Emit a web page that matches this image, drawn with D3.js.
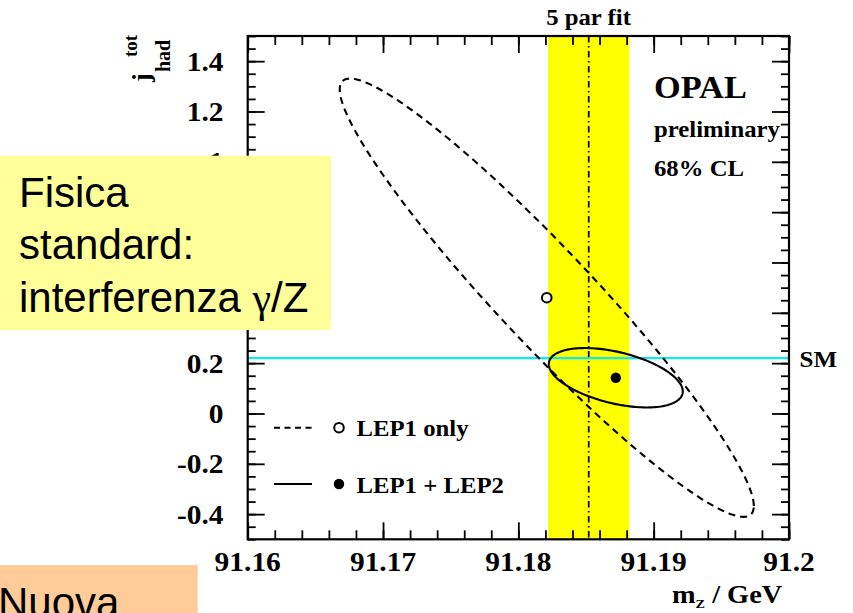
<!DOCTYPE html>
<html>
<head>
<meta charset="utf-8">
<script src="https://cdn.jsdelivr.net/npm/d3@7"></script>
<style>
  html, body { margin: 0; padding: 0; background: #fff; }
  svg { display: block; }
</style>
</head>
<body>
<script>
// Fit results: 68% CL contours in the (m_Z, j_had^tot) plane
const seriesNames = ["LEP1 only", "LEP1 + LEP2"];
const centreMz = [91.1821, 91.1872];
const centreJ = [0.46, 0.142];
const spreadMz = [0.0153, 0.00495];
const spreadJ = [0.871, 0.118];
const correlation = [-0.95, -0.46];
const seriesDash = ["7,5", null];
const seriesFilled = [false, true];

// 5-parameter fit band in m_Z and Standard Model j value
const fitMz = [91.1852];
const fitHalfWidth = [0.0030];
const smJ = [0.22];

// Axes
const xDomain = [91.16, 91.2];
const yDomain = [-0.5, 1.5];
const xTicks = [91.16, 91.17, 91.18, 91.19, 91.2];
const xTickLabels = ["91.16", "91.17", "91.18", "91.19", "91.2"];
const yTicks = [-0.4, -0.2, 0, 0.2, 0.4, 0.6, 0.8, 1, 1.2, 1.4];
const yTickLabels = ["-0.4", "-0.2", "0", "0.2", "0.4", "0.6", "0.8", "1", "1.2", "1.4"];

// Slide notes
const noteLines = ["Fisica", "standard:", "interferenza "];
const bottomNote = ["Nuova"];

const W = 853, H = 613;
const SX = 1.09; // horizontal stretch of the serif lettering
const serif = "'Liberation Serif', 'Times New Roman', serif";
const sans = "'Liberation Sans', Arial, sans-serif";

const plot = { left: 247.7, right: 789, top: 36, bottom: 539.3 };
const noteBox = { x: 0, y: 155.7, w: 331, h: 174.3 };

const x = d3.scaleLinear().domain(xDomain).range([plot.left, plot.right]);
const y = d3.scaleLinear().domain(yDomain).range([plot.bottom, plot.top]);

const svg = d3.select("body").append("svg")
  .attr("width", W).attr("height", H)
  .attr("viewBox", `0 0 ${W} ${H}`);

function stext(parent, px, py, str, size, anchor) {
  return parent.append("text")
    .attr("transform", `translate(${px},${py}) scale(${SX},1)`)
    .attr("font-family", serif)
    .attr("font-weight", "bold")
    .attr("font-size", size)
    .attr("text-anchor", anchor || "start")
    .attr("fill", "#000")
    .text(str);
}

// Fit band and its central value
svg.append("rect")
  .attr("x", x(fitMz[0] - fitHalfWidth[0]))
  .attr("y", plot.top)
  .attr("width", x(fitMz[0] + fitHalfWidth[0]) - x(fitMz[0] - fitHalfWidth[0]))
  .attr("height", plot.bottom - plot.top)
  .attr("fill", "#ffff00");

svg.append("line")
  .attr("x1", x(fitMz[0])).attr("x2", x(fitMz[0]))
  .attr("y1", plot.top).attr("y2", plot.bottom)
  .attr("stroke", "#000").attr("stroke-width", 1.7)
  .attr("stroke-dasharray", "6.5,3.5,1.5,3.5");

// Standard Model line
svg.append("line")
  .attr("x1", plot.left).attr("x2", plot.right)
  .attr("y1", y(smJ[0])).attr("y2", y(smJ[0]))
  .attr("stroke", "#10eaea").attr("stroke-width", 2.2);

// Contours
const angles = d3.range(0, 361, 2).map(d => d * Math.PI / 180);
const contour = d3.line().x(d => x(d[0])).y(d => y(d[1])).curve(d3.curveLinearClosed);

seriesNames.forEach((name, i) => {
  const r = correlation[i];
  const pts = angles.map(t => [
    centreMz[i] + spreadMz[i] * Math.cos(t),
    centreJ[i] + spreadJ[i] * (r * Math.cos(t) + Math.sqrt(1 - r * r) * Math.sin(t))
  ]);
  svg.append("path")
    .attr("d", contour(pts))
    .attr("fill", "none")
    .attr("stroke", "#000")
    .attr("stroke-width", 2.1)
    .attr("stroke-dasharray", seriesDash[i]);

  svg.append("circle")
    .attr("cx", x(centreMz[i])).attr("cy", y(centreJ[i]))
    .attr("r", seriesFilled[i] ? 5.2 : 4.8)
    .attr("fill", seriesFilled[i] ? "#000" : "#fff")
    .attr("stroke", "#000").attr("stroke-width", seriesFilled[i] ? 0 : 2);
});

// Frame with inward ticks on all four sides
const xMinor = d3.range(0, 21).map(k => +(xDomain[0] + k * 0.002).toFixed(4));
const yMinor = d3.range(0, 41).map(k => +(yDomain[0] + k * 0.05).toFixed(3));

function addAxis(axis) {
  const g = svg.append("g").call(axis);
  g.selectAll(".domain").remove();
  g.selectAll(".tick line").attr("stroke", "#000").attr("stroke-width", 1.8);
  g.selectAll(".tick text").remove();
  return g;
}
addAxis(d3.axisBottom(x).tickValues(xMinor).tickSize(-9).tickSizeOuter(0))
  .attr("transform", `translate(0,${plot.bottom})`);
addAxis(d3.axisBottom(x).tickValues(xTicks).tickSize(-17).tickSizeOuter(0))
  .attr("transform", `translate(0,${plot.bottom})`);
addAxis(d3.axisTop(x).tickValues(xMinor).tickSize(-9).tickSizeOuter(0))
  .attr("transform", `translate(0,${plot.top})`);
addAxis(d3.axisTop(x).tickValues(xTicks).tickSize(-17).tickSizeOuter(0))
  .attr("transform", `translate(0,${plot.top})`);
addAxis(d3.axisLeft(y).tickValues(yMinor).tickSize(-8).tickSizeOuter(0))
  .attr("transform", `translate(${plot.left},0)`);
addAxis(d3.axisLeft(y).tickValues(yTicks).tickSize(-17).tickSizeOuter(0))
  .attr("transform", `translate(${plot.left},0)`);
addAxis(d3.axisRight(y).tickValues(yMinor).tickSize(-8).tickSizeOuter(0))
  .attr("transform", `translate(${plot.right},0)`);
addAxis(d3.axisRight(y).tickValues(yTicks).tickSize(-17).tickSizeOuter(0))
  .attr("transform", `translate(${plot.right},0)`);

svg.append("rect")
  .attr("x", plot.left).attr("y", plot.top)
  .attr("width", plot.right - plot.left).attr("height", plot.bottom - plot.top)
  .attr("fill", "none").attr("stroke", "#000").attr("stroke-width", 2.2);

// Tick labels (those lying wholly under the note box are not drawn)
xTicks.forEach((v, i) => stext(svg, x(v), 570.5, xTickLabels[i], 27, "middle"));
yTicks.forEach((v, i) => {
  const base = y(v) + 9.5;
  const top = base - 19, bottom = base + 1;
  const covered = top >= noteBox.y && bottom <= noteBox.y + noteBox.h;
  if (!covered) stext(svg, 223.5, base, yTickLabels[i], 27, "end");
});

// Axis titles
const xt = svg.append("text")
  .attr("transform", `translate(672,603.3) scale(${SX},1)`)
  .attr("font-family", serif).attr("font-weight", "bold").attr("font-size", 26);
xt.append("tspan").text("m");
xt.append("tspan").attr("font-size", 13).attr("dy", 5).text("Z");
xt.append("tspan").attr("dy", -5).text(" / GeV");

svg.append("text")
  .attr("transform", "translate(150,82) rotate(-90)")
  .attr("font-family", serif).attr("font-weight", "bold").attr("font-size", 26)
  .text("j");
svg.append("text")
  .attr("transform", "translate(169.5,72) rotate(-90)")
  .attr("font-family", serif).attr("font-weight", "bold").attr("font-size", 20)
  .text("had");
svg.append("text")
  .attr("transform", "translate(136.5,57) rotate(-90)")
  .attr("font-family", serif).attr("font-weight", "bold").attr("font-size", 19)
  .text("tot");

// Plot annotations
stext(svg, 588.5, 25, "5 par fit", 22.7, "middle");
stext(svg, 654, 98.3, "OPAL", 31.5);
stext(svg, 654, 137, "preliminary", 22.7);
stext(svg, 654, 175.5, "68% CL", 22.7);
stext(svg, 799.5, 366.7, "SM", 23);

// Legend
const legendY = [427.7, 484];
seriesNames.forEach((name, i) => {
  svg.append("line")
    .attr("x1", 274).attr("x2", 312)
    .attr("y1", legendY[i]).attr("y2", legendY[i])
    .attr("stroke", "#000").attr("stroke-width", 2)
    .attr("stroke-dasharray", seriesDash[i] ? "6,4.5" : null);
  svg.append("circle")
    .attr("cx", 339).attr("cy", legendY[i])
    .attr("r", seriesFilled[i] ? 5.2 : 4.8)
    .attr("fill", seriesFilled[i] ? "#000" : "#fff")
    .attr("stroke", "#000").attr("stroke-width", seriesFilled[i] ? 0 : 2);
  stext(svg, 356.5, legendY[i] + 8.5, name, 22.7);
});

// Slide note boxes
svg.append("rect")
  .attr("x", noteBox.x).attr("y", noteBox.y).attr("width", noteBox.w).attr("height", noteBox.h)
  .attr("fill", "#ffff99");
noteLines.forEach((line, i) => {
  const t = svg.append("text")
    .attr("x", 19).attr("y", 206.7 + i * 52.5)
    .attr("font-family", sans).attr("font-size", 42).attr("fill", "#000")
    .text(line);
  if (i === noteLines.length - 1) {
    t.append("tspan").attr("font-family", serif).text("\u03b3");
    t.append("tspan").text("/Z");
  }
});

svg.append("rect")
  .attr("x", 0).attr("y", 565).attr("width", 197.7).attr("height", 48)
  .attr("fill", "#ffcc99");
svg.append("text")
  .attr("x", -2).attr("y", 617)
  .attr("font-family", sans).attr("font-size", 42).attr("fill", "#000")
  .text(bottomNote[0]);
</script>
</body>
</html>
